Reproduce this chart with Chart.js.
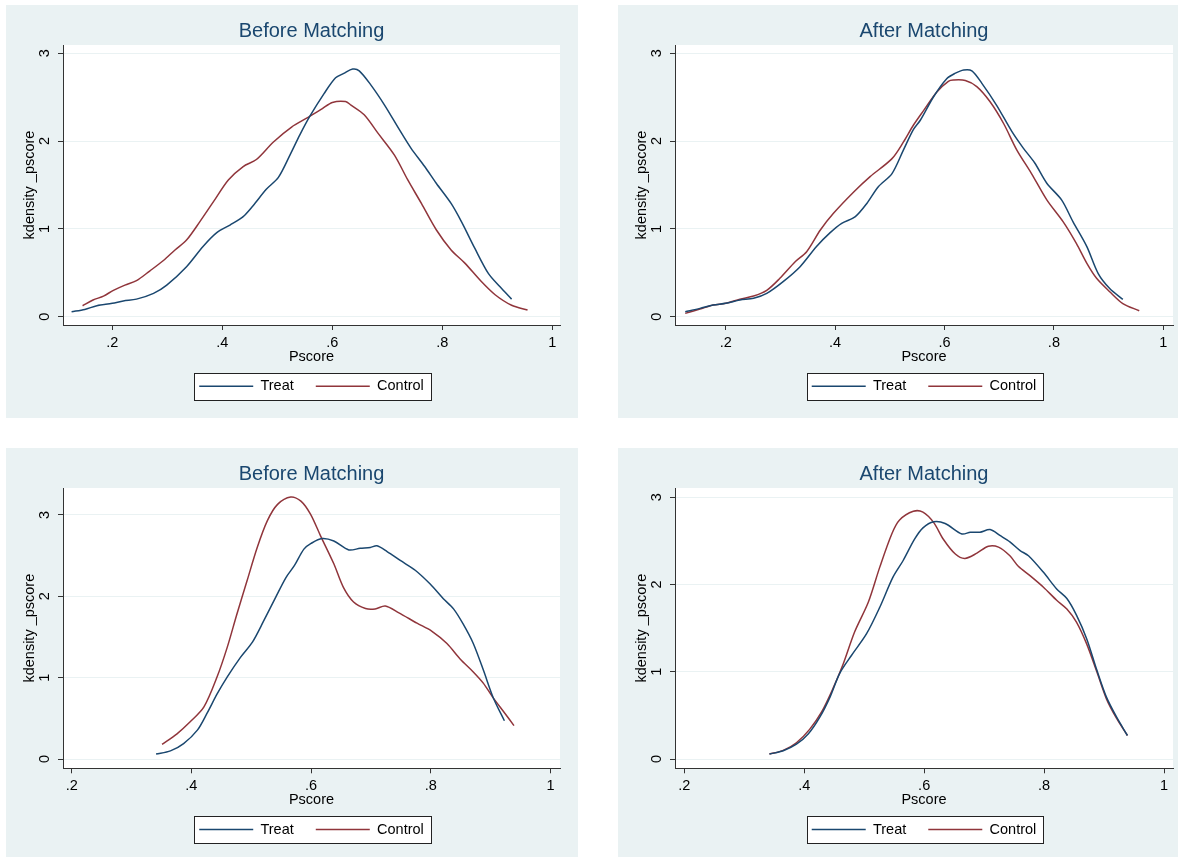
<!DOCTYPE html>
<html>
<head>
<meta charset="utf-8">
<script src="https://cdn.jsdelivr.net/npm/chart.js@4.4.1/dist/chart.umd.min.js"></script>
<style>
  body { margin: 0; background: #fff; width: 1178px; height: 857px; position: relative; overflow: hidden; }
  .panel { position: absolute; background: #eaf2f3; }
  canvas { display: block; }
</style>
</head>
<body>
<div class="panel" style="left:6px;top:5px;width:572px;height:413px"><canvas id="tl" width="572" height="413"></canvas></div>
<div class="panel" style="left:618px;top:5px;width:560px;height:413px"><canvas id="tr" width="560" height="413"></canvas></div>
<div class="panel" style="left:6px;top:448px;width:572px;height:409px"><canvas id="bl" width="572" height="409"></canvas></div>
<div class="panel" style="left:618px;top:448px;width:560px;height:409px"><canvas id="br" width="560" height="409"></canvas></div>
<script>
const seriesNames = ['Treat', 'Control']
const xTickValues = [0.2, 0.4, 0.6, 0.8, 1]
const xTickLabels = ['.2', '.4', '.6', '.8', '1']
const yTickValues = [0, 1, 2, 3]
const yTickLabels = ['0', '1', '2', '3']

// top row, first sample
const tlTreatX = [0.126, 0.150, 0.172, 0.200, 0.220, 0.244, 0.275, 0.299, 0.335, 0.365, 0.390, 0.414, 0.438, 0.456, 0.480, 0.502, 0.523, 0.541, 0.559, 0.585, 0.606, 0.621, 0.637, 0.649, 0.670, 0.695, 0.722, 0.743, 0.768, 0.789, 0.816, 0.835, 0.859, 0.884, 0.905, 0.926]
const tlTreatY = [0.057, 0.083, 0.125, 0.152, 0.180, 0.200, 0.266, 0.360, 0.570, 0.800, 0.957, 1.044, 1.140, 1.264, 1.450, 1.587, 1.840, 2.070, 2.280, 2.540, 2.720, 2.770, 2.820, 2.800, 2.640, 2.410, 2.130, 1.920, 1.710, 1.520, 1.290, 1.080, 0.780, 0.490, 0.340, 0.200]
const tlCtrlX = [0.146, 0.165, 0.184, 0.202, 0.223, 0.244, 0.268, 0.293, 0.314, 0.335, 0.359, 0.384, 0.411, 0.438, 0.462, 0.493, 0.526, 0.556, 0.582, 0.600, 0.624, 0.634, 0.658, 0.683, 0.713, 0.737, 0.762, 0.789, 0.816, 0.841, 0.871, 0.896, 0.926, 0.955]
const tlCtrlY = [0.125, 0.190, 0.235, 0.300, 0.360, 0.410, 0.520, 0.640, 0.760, 0.873, 1.080, 1.310, 1.557, 1.710, 1.790, 1.990, 2.160, 2.270, 2.370, 2.440, 2.450, 2.410, 2.300, 2.090, 1.840, 1.560, 1.290, 0.990, 0.760, 0.610, 0.400, 0.250, 0.130, 0.076]

const trTreatX = [0.126, 0.153, 0.177, 0.200, 0.226, 0.251, 0.275, 0.305, 0.336, 0.366, 0.391, 0.412, 0.437, 0.458, 0.479, 0.504, 0.525, 0.543, 0.556, 0.580, 0.604, 0.619, 0.635, 0.650, 0.668, 0.695, 0.723, 0.744, 0.765, 0.787, 0.814, 0.835, 0.860, 0.881, 0.902, 0.926]
const trTreatY = [0.057, 0.095, 0.133, 0.152, 0.190, 0.210, 0.266, 0.400, 0.570, 0.800, 0.957, 1.063, 1.140, 1.290, 1.480, 1.630, 1.900, 2.130, 2.240, 2.505, 2.710, 2.770, 2.810, 2.800, 2.660, 2.410, 2.110, 1.920, 1.750, 1.520, 1.330, 1.080, 0.800, 0.490, 0.320, 0.197]
const trCtrlX = [0.126, 0.153, 0.177, 0.200, 0.226, 0.251, 0.275, 0.299, 0.327, 0.348, 0.373, 0.397, 0.434, 0.464, 0.504, 0.525, 0.543, 0.562, 0.586, 0.607, 0.616, 0.638, 0.659, 0.683, 0.708, 0.732, 0.759, 0.787, 0.817, 0.841, 0.860, 0.878, 0.902, 0.926, 0.956]
const trCtrlY = [0.038, 0.087, 0.133, 0.152, 0.200, 0.235, 0.300, 0.437, 0.626, 0.740, 0.987, 1.177, 1.420, 1.595, 1.800, 1.990, 2.180, 2.350, 2.560, 2.680, 2.695, 2.690, 2.620, 2.450, 2.200, 1.900, 1.630, 1.330, 1.080, 0.835, 0.610, 0.437, 0.285, 0.150, 0.068]

// bottom row, second sample
const blTreatX = [0.341, 0.365, 0.387, 0.410, 0.426, 0.443, 0.460, 0.482, 0.502, 0.521, 0.541, 0.558, 0.572, 0.588, 0.600, 0.618, 0.638, 0.663, 0.682, 0.699, 0.710, 0.727, 0.749, 0.774, 0.799, 0.821, 0.838, 0.854, 0.871, 0.888, 0.904, 0.923]
const blTreatY = [0.061, 0.100, 0.190, 0.355, 0.560, 0.800, 1.010, 1.250, 1.437, 1.700, 1.990, 2.230, 2.376, 2.580, 2.650, 2.710, 2.680, 2.570, 2.590, 2.600, 2.620, 2.550, 2.440, 2.320, 2.150, 1.970, 1.845, 1.660, 1.420, 1.090, 0.760, 0.470]
const blCtrlX = [0.351, 0.376, 0.398, 0.421, 0.443, 0.460, 0.476, 0.493, 0.510, 0.527, 0.544, 0.566, 0.583, 0.599, 0.616, 0.638, 0.654, 0.671, 0.691, 0.707, 0.724, 0.746, 0.777, 0.802, 0.827, 0.849, 0.871, 0.888, 0.904, 0.924, 0.939]
const blCtrlY = [0.180, 0.310, 0.457, 0.640, 1.010, 1.375, 1.780, 2.190, 2.600, 2.930, 3.130, 3.220, 3.170, 3.010, 2.740, 2.400, 2.110, 1.930, 1.850, 1.845, 1.880, 1.800, 1.670, 1.570, 1.420, 1.230, 1.070, 0.930, 0.755, 0.560, 0.410]

const brTreatX = [0.342, 0.365, 0.387, 0.407, 0.426, 0.443, 0.459, 0.479, 0.504, 0.526, 0.548, 0.565, 0.584, 0.598, 0.616, 0.635, 0.663, 0.677, 0.693, 0.710, 0.727, 0.743, 0.760, 0.774, 0.799, 0.821, 0.838, 0.854, 0.871, 0.888, 0.904, 0.921, 0.939]
const brTreatY = [0.057, 0.095, 0.170, 0.290, 0.480, 0.710, 0.980, 1.190, 1.437, 1.740, 2.085, 2.276, 2.520, 2.650, 2.720, 2.700, 2.580, 2.600, 2.600, 2.630, 2.560, 2.490, 2.390, 2.330, 2.140, 1.950, 1.840, 1.650, 1.380, 1.020, 0.710, 0.480, 0.270]
const brCtrlX = [0.342, 0.365, 0.387, 0.409, 0.429, 0.448, 0.465, 0.484, 0.507, 0.526, 0.546, 0.559, 0.582, 0.598, 0.616, 0.632, 0.652, 0.668, 0.688, 0.707, 0.724, 0.743, 0.757, 0.777, 0.799, 0.821, 0.838, 0.854, 0.871, 0.888, 0.904, 0.921, 0.939]
const brCtrlY = [0.057, 0.100, 0.187, 0.340, 0.540, 0.810, 1.090, 1.456, 1.800, 2.200, 2.580, 2.740, 2.840, 2.830, 2.710, 2.520, 2.350, 2.300, 2.360, 2.440, 2.430, 2.330, 2.210, 2.100, 1.970, 1.820, 1.720, 1.570, 1.320, 1.000, 0.690, 0.465, 0.270]

const FONT = "'Liberation Sans', Arial, sans-serif"
const NAVY = '#1a476f'
const MAROON = '#90353b'

const toPoints = (xs, ys) => xs.map((x, i) => ({ x: x, y: ys[i] }))

// white plot region + boxed legend, stata style
const stataBoxes = {
  id: 'stataBoxes',
  beforeDraw(chart) {
    const { ctx, chartArea: a } = chart
    ctx.save()
    ctx.fillStyle = '#fff'
    ctx.fillRect(a.left, a.top, a.right - a.left, a.bottom - a.top)
    const hb = chart.legend.legendHitBoxes
    if (hb && hb.length) {
      const last = hb[hb.length - 1]
      const x0 = Math.round(hb[0].left - 5) + 0.5
      const x1 = Math.round(last.left + last.width + 7) + 0.5
      const y0 = Math.round(hb[0].top - 6) + 0.5
      const y1 = Math.round(hb[0].top + hb[0].height + 6) + 0.5
      ctx.fillRect(x0, y0, x1 - x0, y1 - y0)
      ctx.strokeStyle = '#222'
      ctx.lineWidth = 1
      ctx.strokeRect(x0, y0, x1 - x0, y1 - y0)
    }
    ctx.restore()
  }
}

function makePanel(id, title, xr, yr, treatX, treatY, ctrlX, ctrlY, padRight, padBottom) {
  const el = document.getElementById(id)
  return new Chart(el.getContext('2d'), {
    type: 'line',
    data: {
      datasets: [
        {
          label: seriesNames[0],
          data: toPoints(treatX, treatY),
          borderColor: NAVY,
          backgroundColor: NAVY,
          borderWidth: 1.5,
          pointRadius: 0,
          tension: 0.3,
        },
        {
          label: seriesNames[1],
          data: toPoints(ctrlX, ctrlY),
          borderColor: MAROON,
          backgroundColor: MAROON,
          borderWidth: 1.5,
          pointRadius: 0,
          tension: 0.3,
        },
      ],
    },
    options: {
      responsive: false,
      animation: false,
      events: [],
      layout: {
        padding: { left: 0, right: padRight, top: 0, bottom: padBottom }
      },
      plugins: {
        title: {
          display: true,
          text: title,
          color: NAVY,
          fullSize: false,
          font: { family: FONT, size: 20, weight: 'normal' },
          padding: { top: 14, bottom: 2 },
        },
        legend: {
          position: 'bottom',
          fullSize: false,
          labels: {
            usePointStyle: true,
            pointStyle: 'line',
            pointStyleWidth: 54,
            padding: 22,
            color: '#000',
            font: { family: FONT, size: 14.5 },
          },
        },
        tooltip: { enabled: false },
      },
      scales: {
        x: {
          type: 'linear',
          min: xr[0],
          max: xr[1],
          afterBuildTicks: (s) => { s.ticks = xTickValues.map(v => ({ value: v })) },
          afterFit: (s) => { s.height = 32 },
          ticks: {
            color: '#000',
            padding: 4,
            maxRotation: 0,
            font: { family: FONT, size: 14.5 },
            callback: (v) => xTickLabels[xTickValues.indexOf(v)],
          },
          grid: {
            drawOnChartArea: false,
            tickLength: 5,
            color: '#333',
          },
          border: { color: '#333', width: 1 },
          title: {
            display: true,
            text: 'Pscore',
            color: '#000',
            font: { family: FONT, size: 14.5 },
            padding: { top: 0, bottom: -8.7 },
          },
        },
        y: {
          min: yr[0],
          max: yr[1],
          afterBuildTicks: (s) => { s.ticks = yTickValues.map(v => ({ value: v })) },
          afterFit: (s) => { s.width = 57 },
          ticks: {
            color: '#000',
            padding: 9,
            minRotation: 90,
            maxRotation: 90,
            crossAlign: 'center',
            font: { family: FONT, size: 14.5 },
            callback: (v) => yTickLabels[yTickValues.indexOf(v)],
          },
          grid: {
            color: '#eaf2f3',
            tickColor: '#333',
            tickLength: 5,
          },
          border: { color: '#333', width: 1 },
          title: {
            display: true,
            text: 'kdensity _pscore',
            color: '#000',
            font: { family: FONT, size: 14.5 },
            padding: { top: 15.3, bottom: 0 },
          },
        },
      },
    },
    plugins: [stataBoxes],
  })
}

makePanel('tl', 'Before Matching', [0.1104, 1.014], [-0.0945, 3.094], tlTreatX, tlTreatY, tlCtrlX, tlCtrlY, 18, 14.5)
makePanel('tr', 'After Matching', [0.1073, 1.0177], [-0.0945, 3.094], trTreatX, trTreatY, trCtrlX, trCtrlY, 5, 14.5)
makePanel('bl', 'Before Matching', [0.1855, 1.0159], [-0.114, 3.331], blTreatX, blTreatY, blCtrlX, blCtrlY, 18, 10.2)
makePanel('br', 'After Matching', [0.1845, 1.015], [-0.106, 3.107], brTreatX, brTreatY, brCtrlX, brCtrlY, 5, 10.2)
</script>
</body>
</html>
